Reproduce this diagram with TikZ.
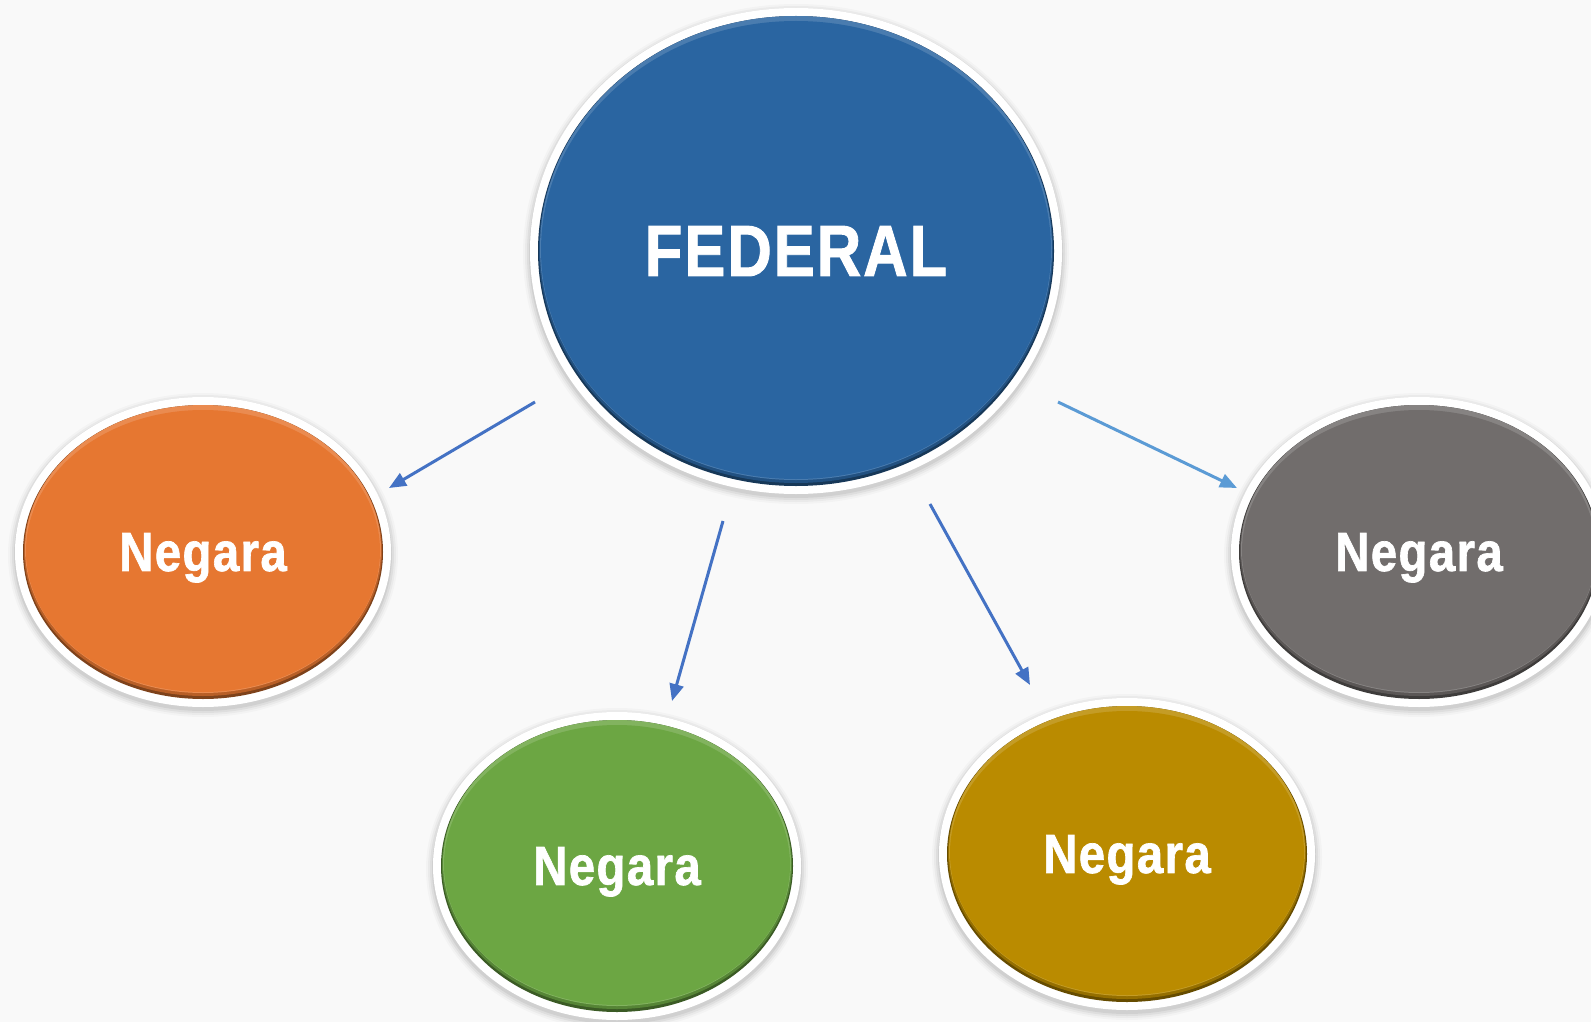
\documentclass[tikz,border=0pt]{standalone}
\usepackage{fontspec}
\setmainfont{Liberation Sans}[BoldFeatures={FakeBold=1.3,LetterSpace=3}]
\usetikzlibrary{arrows.meta,shapes.geometric}
\definecolor{bgc}{HTML}{F9F9F9}
\definecolor{fedblue}{HTML}{2A65A1}
\definecolor{orangec}{HTML}{E67731}
\definecolor{greenc}{HTML}{6CA643}
\definecolor{goldc}{HTML}{BA8B00}
\definecolor{greyc}{HTML}{716D6C}
\definecolor{arrowa}{HTML}{4472C4}
\definecolor{arrowb}{HTML}{5B9BD5}
\tikzset{
  conn/.style={line width=3pt, draw=arrowa, -{Triangle[length=17pt,width=14pt]}},
  connlight/.style={conn, draw=arrowb},
  label/.style={ellipse, inner sep=0pt, text=white, text depth=0pt}
}
\newcommand\bubble[9]{%
  \foreach \k/\o in {7/0.025,5/0.035,3/0.05,1/0.06}{%
    \fill[black,opacity=\o] (#2,#3+3) ellipse [x radius=#4+\k, y radius=#5+\k];}
  \fill[white] (#2,#3) ellipse [x radius=#4, y radius=#5];
  \fill[#6!55!black] (#2,#3) ellipse [x radius=#4-8, y radius=#5-8];
  \fill[#6!80!black] (#2,#3-1) ellipse [x radius=#4-9, y radius=#5-10];
  \fill[#6!85!white] (#2,#3-3) ellipse [x radius=#4-10, y radius=#5-11];
  \fill[#6] (#2,#3-1) ellipse [x radius=#4-11, y radius=#5-14];
  \node[label, minimum width={2*#4-16}, minimum height={2*#5-16}, font=\fontsize{#7}{#7}\selectfont\bfseries] (#1) at (#2,#3) {\scalebox{#8}[1]{#9}};
}
\begin{document}
\begin{tikzpicture}[x=1pt,y=-1pt]
\fill[bgc] (0,0) rectangle (1591,1022);
\useasboundingbox (0,0) rectangle (1591,1022);
\clip (0,0) rectangle (1591,1022);

\bubble{fed}{796}{251}{266}{243}{fedblue}{72.6}{0.85}{FEDERAL}
\bubble{n1}{203}{552}{188}{155}{orangec}{55}{0.86}{Negara}
\bubble{n2}{617}{866}{184}{154}{greenc}{55}{0.86}{Negara}
\bubble{n3}{1127}{854}{188}{156}{goldc}{55}{0.86}{Negara}
\bubble{n4}{1419}{552}{188}{155}{greyc}{55}{0.86}{Negara}

\coordinate (a1s) at (535,402);
\coordinate (a1e) at (389,488);
\coordinate (a2s) at (1058,402);
\coordinate (a2e) at (1237,488);
\coordinate (a3s) at (723,521);
\coordinate (a3e) at (672,701);
\coordinate (a4s) at (930,504);
\coordinate (a4e) at (1030,685);

\draw[conn] (a1s) -- (a1e);
\draw[connlight] (a2s) -- (a2e);
\draw[conn] (a3s) -- (a3e);
\draw[conn] (a4s) -- (a4e);
\end{tikzpicture}
\end{document}
